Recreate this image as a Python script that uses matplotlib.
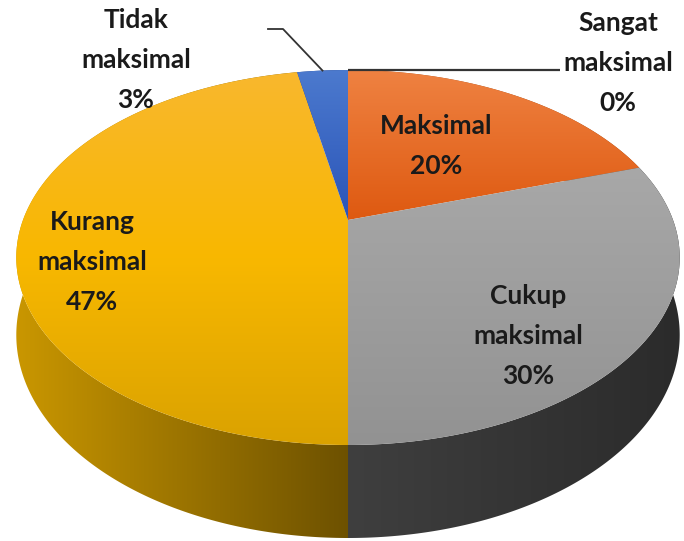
import numpy as np
import matplotlib
matplotlib.use("Agg")
import matplotlib.pyplot as plt
from matplotlib.patches import Polygon
from matplotlib.colors import to_rgb

categories = ["Sangat\nmaksimal", "Maksimal", "Cukup\nmaksimal", "Kurang\nmaksimal", "Tidak\nmaksimal"]
values = [0, 20, 30, 47, 3]

# top face colours (top -> bottom) and side colours (left -> right)
top_colors = [
    ["#5B9BD5", "#5B9BD5"],
    ["#EF8242", "#DE5910"],
    ["#A8A8A8", "#929292"],
    ["#F9B72E", "#F8B800", "#DAA200"],
    ["#4C7ACE", "#2A54B8"],
]
side_colors = [
    ["#5B9BD5", "#5B9BD5"],
    ["#B0501A", "#8A3A0A"],
    ["#3F3F3F", "#2B2B2B"],
    ["#CA9700", "#6D5100"],
    ["#2A4A90", "#1E3A78"],
]
label_pos = [(618, 63), (436, 146), (528, 336), (92, 262), (136, 60)]

# perspective of the pie disc, in pixel coordinates
cx, cy = 348, 220
A, B, k = 325, 180, 0.2
depth = 74.4


def proj(phi, d=0.0):
    u, v = np.sin(phi), np.cos(phi)
    w = 1 + k * v
    return cx + A * u / w, cy - B * v / w + d / w


def gradient_fill(ax, verts, colors, horizontal=False, zorder=1):
    poly = Polygon(verts, closed=True, facecolor="none", edgecolor="none", zorder=zorder)
    ax.add_patch(poly)
    x0, y0 = verts.min(axis=0)
    x1, y1 = verts.max(axis=0)
    stops = np.array([to_rgb(c) for c in colors])
    t = np.linspace(0, 1, 256)
    pos = np.linspace(0, 1, len(stops))
    grad = np.stack([np.interp(t, pos, stops[:, i]) for i in range(3)], axis=-1)
    img = grad[None, :, :] if horizontal else grad[:, None, :]
    im = ax.imshow(img, extent=(x0 - 1, x1 + 1, y1 + 1, y0 - 1), origin="upper",
                   aspect="auto", interpolation="bilinear", zorder=zorder)
    im.set_clip_path(poly)


fig = plt.figure(figsize=(6.84, 5.41), dpi=100)
ax = fig.add_axes([0, 0, 1, 1])
ax.axis("off")

total = sum(values)
starts = np.cumsum([0] + values[:-1]) / total * 2 * np.pi
spans = np.array(values) / total * 2 * np.pi

# sides first, then the top faces over them
for i, (a0, sp) in enumerate(zip(starts, spans)):
    if sp <= 0:
        continue
    phi = np.linspace(a0, a0 + sp, 300)
    tx, ty = proj(phi)
    bx, by = proj(phi, depth)
    verts = np.column_stack([np.r_[tx, bx[::-1]], np.r_[ty, by[::-1]]])
    gradient_fill(ax, verts, side_colors[i], horizontal=True, zorder=1)

for i, (a0, sp) in enumerate(zip(starts, spans)):
    if sp <= 0:
        continue
    phi = np.linspace(a0, a0 + sp, 300)
    tx, ty = proj(phi)
    verts = np.column_stack([np.r_[cx, tx], np.r_[cy, ty]])
    gradient_fill(ax, verts, top_colors[i], zorder=2)

# leader lines for the thin slices
x0, y0 = proj(starts[0] + spans[0] / 2)
ax.plot([x0, 560], [y0, y0], color="#333333", lw=1.6, zorder=3, solid_capstyle="butt")
x4, y4 = proj(starts[4] + spans[4] / 2)
ax.plot([x4, 283, 268], [y4, 29, 29], color="#333333", lw=1.3, zorder=3)

for name, val, (lx, ly) in zip(categories, values, label_pos):
    ax.text(lx, ly, f"{name}\n{val}%", ha="center", va="center", multialignment="center",
            fontsize=19, fontfamily="Lato", fontweight="bold", color="#1A1A1A",
            linespacing=1.78, zorder=4)

ax.set_xlim(0, 684)
ax.set_ylim(541, 0)
fig.savefig("out.png", dpi=100)
